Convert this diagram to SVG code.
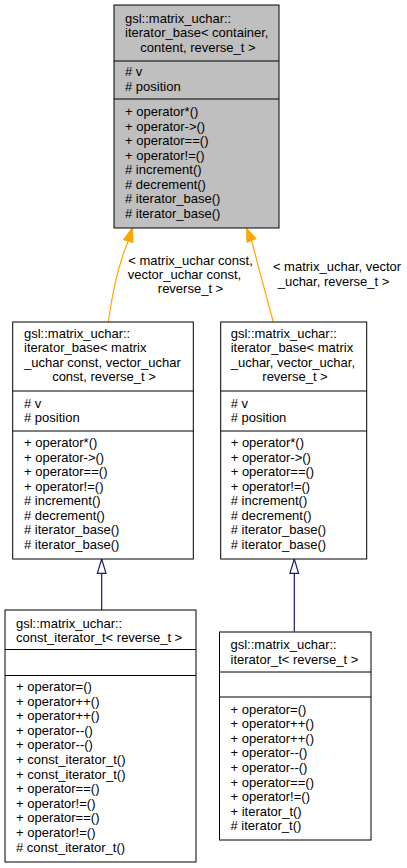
<svg xmlns="http://www.w3.org/2000/svg" width="407" height="868" viewBox="0 0 407 868">
<style>
text{font-family:"Liberation Sans",Arial,Helvetica,sans-serif;font-size:13px;fill:#000}
.c{text-anchor:middle}
.box{fill:#fff;stroke:#000;stroke-width:1}
.cur{fill:#bfbfbf;stroke:#000;stroke-width:1}
.div{stroke:#000;stroke-width:1}
.tpl{fill:none;stroke:#ffa500;stroke-width:1.2}
.tplh{fill:#ffa500;stroke:#ffa500;stroke-width:1}
.inh{fill:none;stroke:#191970;stroke-width:1.2}
.inhh{fill:#fff;stroke:#191970;stroke-width:1.2}
</style>
<rect width="407" height="868" fill="#fff"/>
<g id="connectors">
<path class="tpl" d="M108.3,322 C112,295 118,265 128.2,241.2"/>
<polygon class="tplh" points="132.3,227.5 123.4,239.8 133,242.6"/>
<path class="tpl" d="M273.3,322 C266,295 257,262 251.5,240.5"/>
<polygon class="tplh" points="246.7,228.3 256.2,238.7 246.9,242.3"/>
<text class="c" x="190.5" y="264.5">&lt; matrix_uchar const,</text>
<text class="c" x="184.5" y="279">vector_uchar const,</text>
<text class="c" x="190.5" y="293">reverse_t &gt;</text>
<text class="c" x="337" y="271">&lt; matrix_uchar, vector</text>
<text class="c" x="333.5" y="286">_uchar, reverse_t &gt;</text>
<path class="inh" d="M101.7,610 V573.3"/>
<polygon class="inhh" points="101.7,559 97.3,573.3 106,573.3"/>
<path class="inh" d="M294.3,631.7 V573.3"/>
<polygon class="inhh" points="294.3,559 289.9,573.3 298.6,573.3"/>
</g>
<g id="node-base">
<rect class="cur" x="114" y="5" width="165" height="223"/>
<line class="div" x1="114" y1="61" x2="279" y2="61"/>
<line class="div" x1="114" y1="99" x2="279" y2="99"/>
<text x="125" y="23">gsl::matrix_uchar::</text>
<text x="125" y="37.3">iterator_base&lt; container,</text>
<text class="c" x="198" y="51.5">content, reverse_t &gt;</text>
<text x="125" y="76"># v</text>
<text x="125" y="91"># position</text>
<text x="125" y="116">+ operator*()</text>
<text x="125" y="130.5">+ operator-&gt;()</text>
<text x="125" y="145">+ operator==()</text>
<text x="125" y="159.5">+ operator!=()</text>
<text x="125" y="174"># increment()</text>
<text x="125" y="188.5"># decrement()</text>
<text x="125" y="203"># iterator_base()</text>
<text x="125" y="217.5"># iterator_base()</text>
</g>
<g id="node-const-base">
<rect class="box" x="12.7" y="322" width="180.6" height="237"/>
<line class="div" x1="12.7" y1="391" x2="193.3" y2="391"/>
<line class="div" x1="12.7" y1="431" x2="193.3" y2="431"/>
<text x="24" y="337.5">gsl::matrix_uchar::</text>
<text x="24" y="352">iterator_base&lt; matrix</text>
<text x="24" y="366.5">_uchar const, vector_uchar</text>
<text class="c" x="104" y="381">const, reverse_t &gt;</text>
<text x="24" y="407.5"># v</text>
<text x="24" y="421.5"># position</text>
<text x="24" y="447">+ operator*()</text>
<text x="24" y="461.5">+ operator-&gt;()</text>
<text x="24" y="476">+ operator==()</text>
<text x="24" y="490.5">+ operator!=()</text>
<text x="24" y="505"># increment()</text>
<text x="24" y="519.5"># decrement()</text>
<text x="24" y="534"># iterator_base()</text>
<text x="24" y="548.5"># iterator_base()</text>
</g>
<g id="node-mut-base">
<rect class="box" x="220.7" y="322" width="146" height="237"/>
<line class="div" x1="220.7" y1="391" x2="366.7" y2="391"/>
<line class="div" x1="220.7" y1="431" x2="366.7" y2="431"/>
<text x="230.7" y="337.5">gsl::matrix_uchar::</text>
<text x="230.7" y="352">iterator_base&lt; matrix</text>
<text x="230.7" y="366.5">_uchar, vector_uchar,</text>
<text class="c" x="295" y="381">reverse_t &gt;</text>
<text x="230.7" y="407.5"># v</text>
<text x="230.7" y="421.5"># position</text>
<text x="230.7" y="447">+ operator*()</text>
<text x="230.7" y="461.5">+ operator-&gt;()</text>
<text x="230.7" y="476">+ operator==()</text>
<text x="230.7" y="490.5">+ operator!=()</text>
<text x="230.7" y="505"># increment()</text>
<text x="230.7" y="519.5"># decrement()</text>
<text x="230.7" y="534"># iterator_base()</text>
<text x="230.7" y="548.5"># iterator_base()</text>
</g>
<g id="node-const-iterator">
<rect class="box" x="5" y="610" width="191" height="252"/>
<line class="div" x1="5" y1="649.5" x2="196" y2="649.5"/>
<line class="div" x1="5" y1="675.5" x2="196" y2="675.5"/>
<text x="16" y="627.5">gsl::matrix_uchar::</text>
<text x="16" y="642">const_iterator_t&lt; reverse_t &gt;</text>
<text x="16" y="691">+ operator=()</text>
<text x="16" y="705.6">+ operator++()</text>
<text x="16" y="720.2">+ operator++()</text>
<text x="16" y="734.8">+ operator--()</text>
<text x="16" y="749.4">+ operator--()</text>
<text x="16" y="764">+ const_iterator_t()</text>
<text x="16" y="778.6">+ const_iterator_t()</text>
<text x="16" y="793.2">+ operator==()</text>
<text x="16" y="807.8">+ operator!=()</text>
<text x="16" y="822.4">+ operator==()</text>
<text x="16" y="837">+ operator!=()</text>
<text x="16" y="851.6"># const_iterator_t()</text>
</g>
<g id="node-iterator">
<rect class="box" x="219.5" y="632" width="151.5" height="208"/>
<line class="div" x1="219.5" y1="672" x2="371" y2="672"/>
<line class="div" x1="219.5" y1="697" x2="371" y2="697"/>
<text x="230.5" y="649">gsl::matrix_uchar::</text>
<text x="230.5" y="663.5">iterator_t&lt; reverse_t &gt;</text>
<text x="230.5" y="713.5">+ operator=()</text>
<text x="230.5" y="728.1">+ operator++()</text>
<text x="230.5" y="742.7">+ operator++()</text>
<text x="230.5" y="757.3">+ operator--()</text>
<text x="230.5" y="771.9">+ operator--()</text>
<text x="230.5" y="786.5">+ operator==()</text>
<text x="230.5" y="801.1">+ operator!=()</text>
<text x="230.5" y="815.7">+ iterator_t()</text>
<text x="230.5" y="830.3"># iterator_t()</text>
</g>
</svg>
